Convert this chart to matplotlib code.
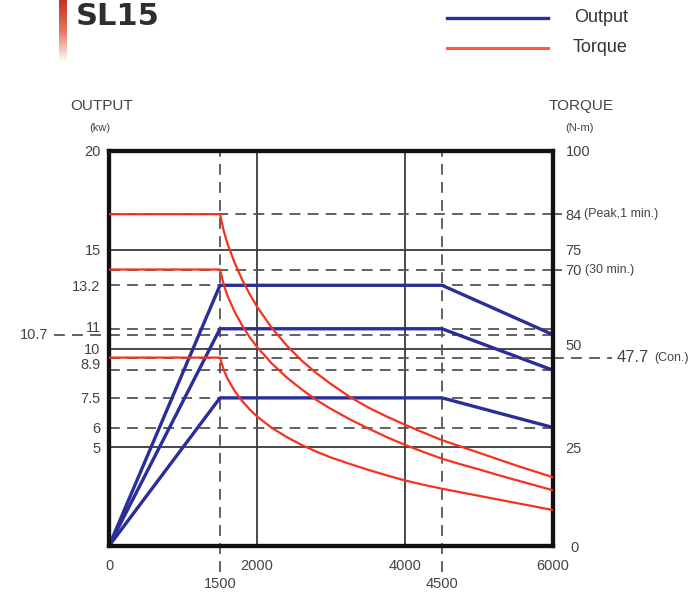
import numpy as np
import matplotlib.pyplot as plt
from matplotlib.lines import Line2D
from matplotlib.colors import LinearSegmentedColormap
import matplotlib.transforms as mtransforms

plt.rcParams['font.family'] = ['Liberation Sans', 'DejaVu Sans']

# Output (kW) vs speed (rpm)
output_speed = [0, 1500, 4500, 6000]
output_peak = [0, 13.2, 13.2, 10.7]
output_30min = [0, 11.0, 11.0, 8.9]
output_con = [0, 7.5, 7.5, 6.0]

# Torque (N-m) vs speed (rpm)
torque_speed = [0, 1500, 1550, 1600, 1700, 1800, 1900, 2000, 2200, 2400, 2600, 2800,
                3000, 3250, 3500, 3750, 4000, 4250, 4500, 4750, 5000, 5250, 5500, 5750, 6000]
torque_peak = [84, 84, 79.8, 76.6, 71.6, 67.4, 63.8, 60.6, 55.2, 50.8, 47.0, 43.8,
               41.0, 37.8, 35.1, 32.8, 30.7, 28.7, 26.8, 25.2, 23.6, 22.0, 20.4, 18.9, 17.4]
torque_30min = [70, 70, 66.2, 63.4, 59.2, 55.8, 52.9, 50.4, 46.2, 42.7, 39.7, 37.0,
                34.7, 32.1, 29.8, 27.6, 25.6, 23.8, 22.1, 20.7, 19.4, 18.0, 16.7, 15.4, 14.1]
torque_con = [47.7, 47.7, 44.6, 42.4, 39.2, 36.7, 34.6, 32.8, 29.9, 27.6, 25.6, 23.9,
              22.4, 20.8, 19.3, 17.9, 16.6, 15.5, 14.5, 13.6, 12.7, 11.8, 10.9, 10.0, 9.1]

# Reference lines
kw_solid = [5, 10, 15]
kw_dashed = [6, 7.5, 8.9, 10.7, 11, 13.2]
torque_dashed = [47.7, 70, 84]
speed_solid = [2000, 4000]
speed_dashed = [1500, 4500]

left_ticks = [5, 6, 7.5, 8.9, 10, 11, 13.2, 15, 20]
left_labels = ['5', '6', '7.5', '8.9', '10', '11', '13.2', '15', '20']
right_ticks = [0, 25, 50, 70, 75, 84, 100]
right_labels = ['0', '25', '50', '70', '75', '84', '100']
x_ticks = [0, 2000, 4000, 6000]

blue = '#2b2e98'
red = '#f5321f'
txt = '#444444'
grid_c = '#3a3a3a'
dash_c = '#555555'

fig = plt.figure(figsize=(6.9, 5.94), dpi=100)
ax = fig.add_axes([109 / 690, 1 - 546 / 594, 444 / 690, 395 / 594])
ax2 = ax.twinx()

ax.set_xlim(0, 6000)
ax.set_ylim(0, 20)
ax2.set_ylim(0, 100)

dash_kw = dict(color=dash_c, lw=1.3, dashes=(6, 4))

# grid lines
for v in kw_solid:
    ax.axhline(v, color=grid_c, lw=1.3, zorder=1)
for v in speed_solid:
    ax.axvline(v, color=grid_c, lw=1.3, zorder=1)
for v in kw_dashed:
    ax.axhline(v, zorder=1, **dash_kw)
for v in torque_dashed:
    ax2.axhline(v, zorder=1, **dash_kw)
for v in speed_dashed:
    ax.plot([v, v], [-1.3, 20], clip_on=False, zorder=1, **dash_kw)

# dashed leaders running out of the frame
ax.plot([-740, 0], [10.7, 10.7], clip_on=False, **dash_kw)
ax2.plot([6000, 6120], [84, 84], clip_on=False, **dash_kw)
ax2.plot([6000, 6120], [70, 70], clip_on=False, **dash_kw)
ax2.plot([6000, 6800], [47.7, 47.7], clip_on=False, **dash_kw)

# curves
for vals in (output_peak, output_30min, output_con):
    ax.plot(output_speed, vals, color=blue, lw=2.4, zorder=4, solid_capstyle='butt')
for vals in (torque_peak, torque_30min, torque_con):
    ax2.plot(torque_speed, vals, color=red, lw=1.6, zorder=3, solid_joinstyle='round')

for a in (ax, ax2):
    for s in a.spines.values():
        s.set_linewidth(3)
        s.set_color('#111111')

# ticks
ax.set_yticks(left_ticks)
ax.set_yticklabels(left_labels)
ax.set_xticks(x_ticks)
ax.set_xticklabels([str(v) for v in x_ticks])
ax.tick_params(axis='both', length=0, labelsize=10.5, labelcolor=txt)
ax.tick_params(axis='y', pad=6)
ax.tick_params(axis='x', pad=9)
ax2.set_yticks(right_ticks)
ax2.set_yticklabels(right_labels)
ax2.tick_params(axis='y', length=0, labelsize=10.5, labelcolor=txt, pad=9)

# nudge crowded labels
def shift(lab, dx, dy):
    lab.set_transform(lab.get_transform() + mtransforms.ScaledTranslation(dx / 100, dy / 100, fig.dpi_scale_trans))

for lab, tv in zip(ax.get_yticklabels(), left_ticks):
    if tv == 8.9:
        shift(lab, 0, 7)
    if tv == 11:
        shift(lab, 0, 2)
for lab, tv in zip(ax2.get_yticklabels(), right_ticks):
    if tv == 50:
        shift(lab, 0, 4)
    if tv == 0:
        shift(lab, 5, 0)

# extra labels
tr2 = mtransforms.blended_transform_factory(ax.transAxes, ax2.transData)
ax2.text((584 - 109) / 444, 84, '(Peak,1 min.)', transform=tr2, fontsize=9, color=txt, va='center')
ax2.text((585 - 109) / 444, 70, '(30 min.)', transform=tr2, fontsize=9, color=txt, va='center')
ax2.text((617 - 109) / 444, 47.7, '47.7', transform=tr2, fontsize=12, color=txt, va='center')
ax2.text((654 - 109) / 444, 47.7, '(Con.)', transform=tr2, fontsize=9, color=txt, va='center')
ax.text(-820, 10.7, '10.7', fontsize=10.5, color=txt, va='center', ha='right')
for v in speed_dashed:
    ax.text(v, -1.9, str(v), fontsize=10.5, color=txt, ha='center', va='center')

fig.text(102 / 690, 1 - 106 / 594, 'OUTPUT', fontsize=11, color=txt, ha='center', va='center')
fig.text(100 / 690, 1 - 128 / 594, '(kw)', fontsize=8, color=txt, ha='center', va='center')
fig.text(581 / 690, 1 - 106 / 594, 'TORQUE', fontsize=11, color=txt, ha='center', va='center')
fig.text(579 / 690, 1 - 128 / 594, '(N-m)', fontsize=8, color=txt, ha='center', va='center')

# title with red gradient bar
fig.text(76 / 690, 1 - 25 / 594, 'SL15', fontsize=22, fontweight='bold', color='#2e2e2e',
         family='DejaVu Sans', ha='left', va='baseline')
bar_ax = fig.add_axes([59 / 690, 1 - 62 / 594, 8 / 690, 62 / 594])
grad = np.linspace(0, 1, 100).reshape(-1, 1)
bar_ax.imshow(grad, aspect='auto', extent=[0, 1, 0, 1],
              cmap=LinearSegmentedColormap.from_list('fade', ['#c8321e', '#e0765e', '#ffffff']))
bar_ax.axis('off')

# legend
fig.add_artist(Line2D([447 / 690, 548 / 690], [1 - 18 / 594, 1 - 18 / 594], color=blue, lw=2.4))
fig.add_artist(Line2D([447 / 690, 548 / 690], [1 - 48 / 594, 1 - 48 / 594], color='#ff5a3a', lw=2.2))
fig.text(574 / 690, 1 - 18 / 594, 'Output', fontsize=13, color='#333333', va='center')
fig.text(573 / 690, 1 - 48 / 594, 'Torque', fontsize=13, color='#333333', va='center')

fig.savefig('out.png', dpi=100)
